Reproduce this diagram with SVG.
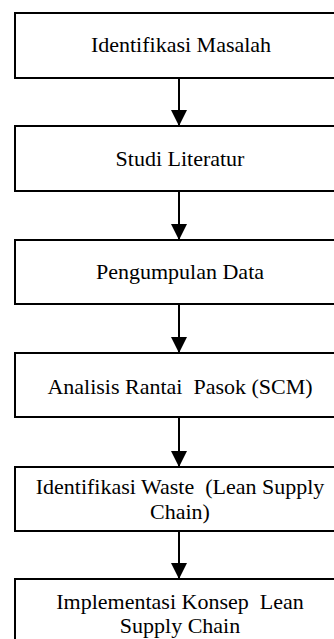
<svg xmlns="http://www.w3.org/2000/svg" width="334" height="639" viewBox="0 0 334 639">
<style>
.box{fill:#fff;stroke:#000;stroke-width:2}
.t{font-family:"Liberation Serif","Times New Roman",serif;font-size:22px;fill:#000;text-anchor:middle;white-space:pre}
.c{stroke:#000;stroke-width:2;fill:none}
</style>
<defs>
<marker id="ah" markerUnits="userSpaceOnUse" markerWidth="16" markerHeight="18" refX="16" refY="8" orient="auto">
<path d="M0,0 L16,8 L0,16 Z" fill="#000"/>
</marker>
</defs>
<rect width="334" height="639" fill="#fff"/>
<g id="connectors">
<line class="c" x1="179" y1="78" x2="179" y2="126" marker-end="url(#ah)"/>
<line class="c" x1="179" y1="191" x2="179" y2="240" marker-end="url(#ah)"/>
<line class="c" x1="179" y1="304" x2="179" y2="353" marker-end="url(#ah)"/>
<line class="c" x1="179" y1="417" x2="179" y2="467" marker-end="url(#ah)"/>
<line class="c" x1="179" y1="531" x2="179" y2="579" marker-end="url(#ah)"/>
</g>
<g id="n1"><rect class="box" x="15" y="13" width="330" height="65"/><text class="t" x="181" y="52">Identifikasi Masalah</text></g>
<g id="n2"><rect class="box" x="15" y="126" width="330" height="65"/><text class="t" x="180" y="166">Studi Literatur</text></g>
<g id="n3"><rect class="box" x="15" y="240" width="330" height="64"/><text class="t" x="180" y="279">Pengumpulan Data</text></g>
<g id="n4"><rect class="box" x="15" y="353" width="330" height="64"/><text class="t" x="180" y="394">Analisis Rantai  Pasok (SCM)</text></g>
<g id="n5"><rect class="box" x="15" y="467" width="330" height="64"/><text class="t" x="180" y="494">Identifikasi Waste  (Lean Supply</text><text class="t" x="180" y="519">Chain)</text></g>
<g id="n6"><rect class="box" x="15" y="579" width="330" height="70"/><text class="t" x="180" y="609">Implementasi Konsep  Lean</text><text class="t" x="180" y="633">Supply Chain</text></g>
</svg>
